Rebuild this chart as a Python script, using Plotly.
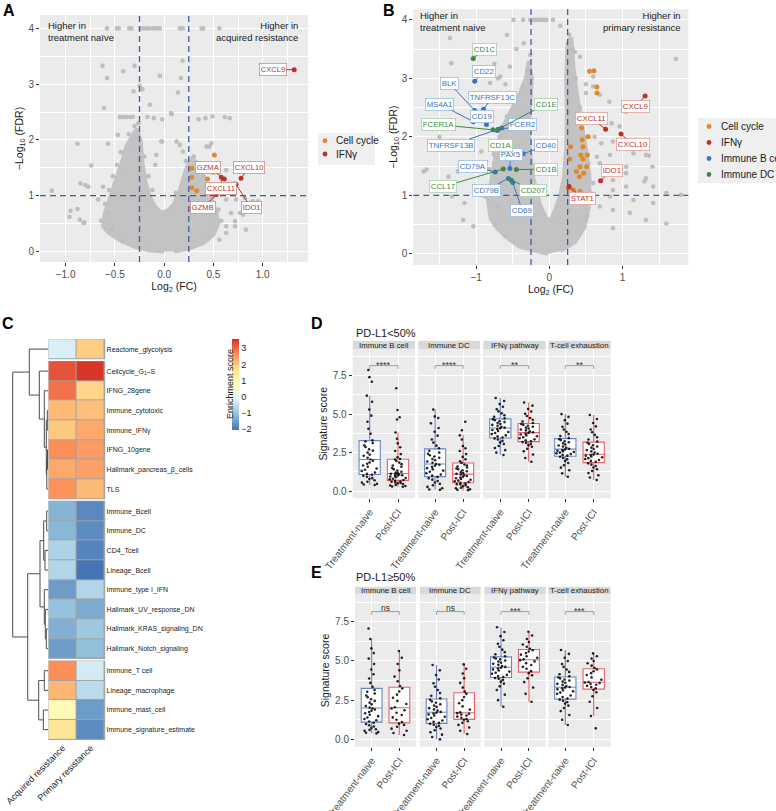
import plotly.graph_objects as go

W, H = 776, 811
FONT = "Liberation Sans, Arial, Helvetica, sans-serif"

# ======================= DATA =======================
fc_threshold = 0.25
fdr_threshold = 1.0

# ---- Panel A: treatment naive vs acquired resistance ----
a_gray_x = [-0.58, -0.48, -0.46, -0.355, -0.33, -0.24, -0.21, -0.18, -0.145, -0.105, -0.078, -0.044, 0.16, 0.19, 0.38, 0.395, 0.56,
            -0.625, -0.58, -0.415, -0.30, -0.25, -0.22, 0.186, 0.17, -0.044, 0.14, -0.31, -0.61, -0.145, 0.078,
            -0.45, -0.42, -0.385, -0.345, -0.32, -0.17, -0.105, -0.02, 0.35, 0.42, 0.49, 0.615, 0.665,
            -0.02, 0.16, -0.88, -0.57, -0.74, -0.80, -0.77, -1.14, -0.95, -0.96, -0.88, -0.855, -0.81,
            0.46, 0.70, 0.73, 0.77, 0.83, 0.72, 0.63, 0.82, 0.90, 0.94, 0.63,
            -0.85, -0.62, -0.67, -0.82, -0.47, -0.09, -0.08, -0.03, 0.125, 0.19, 0.07, 0.43, 0.48, 0.63, 0.72, 0.87, 0.95, 0.68, 0.80, 0.72, 0.63, 0.56, -0.58, -0.53, -0.42,
            -0.52, -0.48, -0.44, -0.36, -0.30, -0.26, 0.30, 0.36, 0.40, 0.45, 0.50, 0.55, 0.58, -0.64, -0.60, -0.56, 0.22, 0.12, -0.12, -0.16, -0.20]
a_gray_y = [4, 4, 4, 4, 4, 4, 4, 4, 4, 4, 4, 4, 4, 4, 4, 4, 4,
            3.33, 3.11, 3.23, 3.33, 2.97, 2.91, 3.42, 3.11, 3.15, 2.85, 2.87, 2.57, 2.63, 2.46,
            2.41, 2.41, 2.41, 2.41, 2.41, 2.41, 2.39, 2.37, 2.37, 2.39, 2.42, 2.41, 2.39,
            1.97, 1.91, 1.93, 1.93, 1.54, 1.19, 1.16, 1.09, 0.73, 0.62, 0.76, 0.57, 0.52,
            1.88, 1.22, 0.93, 0.69, 0.39, 0.54, 0.93, 0.96, 0.90, 0.84, 0.45,
            1.22, 1.16, 0.93, 0.51, 2.09, 1.55, 1.73, 1.97, 1.97, 1.79, 2.48, 1.88, 1.94, 1.46, 1.22, 0.87, 0.90, 0.69, 0.66, 0.45, 0.33, 0.21, 0.69, 0.39, 0.18,
            1.35, 1.55, 1.78, 2.10, 2.25, 2.30, 1.70, 1.52, 1.35, 1.15, 0.98, 0.75, 0.55, 0.55, 0.85, 1.10, 1.62, 1.05, 1.10, 1.35, 1.70]
# outline of the dense cloud of non-significant genes
a_cloud_x = [0.0, -0.15, -0.3, -0.45, -0.56, -0.62, -0.6, -0.55, -0.5, -0.45, -0.42, -0.38, -0.33, -0.28, -0.24, -0.22, -0.19, -0.15, -0.1,
             -0.05, 0.0, 0.05, 0.1, 0.16, 0.2, 0.24, 0.28, 0.33, 0.37, 0.42, 0.48, 0.53, 0.55, 0.5, 0.4, 0.25, 0.1]
a_cloud_y = [0.0, 0.02, 0.08, 0.2, 0.33, 0.45, 0.7, 0.95, 1.25, 1.45, 1.65, 1.9, 2.05, 2.2, 2.0, 1.6, 1.25, 1.0, 0.82,
             0.72, 0.7, 0.75, 0.85, 1.1, 1.35, 1.55, 1.65, 1.6, 1.4, 1.2, 0.95, 0.7, 0.5, 0.3, 0.15, 0.05, 0.0]
a_cellcycle_x = [0.51, 0.28, 0.50, 0.28, 0.44, 0.28, 0.33, 0.45]
a_cellcycle_y = [1.73, 1.49, 1.42, 1.33, 1.30, 1.14, 1.09, 1.10]
a_ifng_genes = ["CXCL9", "GZMA", "CXCL10", "CXCL11", "IDO1", "GZMB"]
a_ifng_x = [1.32, 0.61, 0.78, 0.58, 0.73, 0.53]
a_ifng_y = [3.26, 1.30, 1.31, 1.33, 1.20, 1.02]

# ---- Panel B: treatment naive vs primary resistance ----
b_gray_x = [-0.49, -0.36, -0.26, -0.22, -0.19, -0.16, -0.13, -0.10, -0.07, -0.04, 0.05,
            -1.36, -1.34, -0.58, 1.73, -0.54, -1.72, -1.5, -1.38, -1.33, -1.16, 1.28, 1.36, 1.15, 1.05, 1.30, 1.42, 0.87, 1.42, 0.83, 1.15,
            0.65, 0.83, 0.96, 0.71, 0.42, 0.6, -0.75, -0.6, -0.45, -0.35, 0.15, 0.35, 0.5, -1.0, -1.1, -0.95, -0.7,
            -1.68, -1.52, -1.25, -0.93, -0.88, -0.72, -1.18, -1.04, 0.87, 1.05, 1.32, 1.41, 0.82, 1.05, 0.69, 0.6, 0.87, 1.32, 1.6, 1.8,
            0.85, 1.05, 0.82, 0.69, 0.6, 0.5, 0.87, 0.62, 0.28, 0.69, 0.5, 1.1, 1.32, 1.6, 0.87,
            -0.86, -0.82, -0.76, -0.68, -0.58, -0.46, -0.36, -0.30, -0.26, 0.27, 0.32, 0.36, 0.42, 0.48, 0.53, 0.56, 0.52, -0.75, -0.60, -0.81, -0.67, -0.49]
b_gray_y = [4, 4, 4, 4, 4, 4, 4, 4, 4, 4, 4,
            3.69, 3.26, 3.74, 3.33, 3.2, 1.41, 2.0, 1.32, 0.98, 0.87, 1.89, 1.68, 1.72, 1.49, 1.24, 1.15, 1.26, 0.87, 0.98, 0.92,
            1.66, 1.69, 2.18, 1.89, 3.37, 3.03, 3.25, 2.9, 3.5, 3.6, 3.9, 3.45, 2.9, 1.55, 1.9, 2.6, 3.0,
            1.44, 1.09, 1.41, 1.75, 0.98, 0.81, 0.58, 0.47, 0.75, 1.15, 1.69, 1.49, 1.44, 1.38, 1.55, 1.21, 1.09, 1.29, 1.04, 1.01,
            2.23, 2.43, 2.6, 2.72, 2.86, 2.75, 1.92, 2.0, 0.75, 0.81, 0.58, 0.7, 0.58, 0.52, 0.44,
            1.10, 1.45, 1.70, 2.00, 2.35, 2.62, 2.85, 3.15, 3.40, 3.75, 3.50, 3.00, 2.50, 2.00, 1.55, 1.05, 0.65, 0.50, 0.30, 2.92, 3.03, 2.75]
b_cloud_x = [-0.02, -0.2, -0.4, -0.55, -0.7, -0.8, -0.84, -0.78, -0.72, -0.63, -0.5, -0.4, -0.32, -0.28, -0.24, -0.26, -0.28, -0.27, -0.22, -0.13,
             -0.04, 0.02, 0.08, 0.15, 0.2, 0.23, 0.24, 0.23, 0.25, 0.3, 0.33, 0.38, 0.45, 0.5, 0.55, 0.54, 0.48, 0.35, 0.15]
b_cloud_y = [0.0, 0.05, 0.12, 0.25, 0.42, 0.6, 0.92, 1.35, 1.8, 2.18, 2.52, 2.75, 3.0, 3.3, 3.0, 2.6, 2.2, 1.8, 1.3, 0.85,
             0.6, 0.58, 0.75, 1.0, 1.3, 1.8, 2.4, 3.0, 3.6, 3.7, 3.2, 2.7, 2.2, 1.8, 1.3, 0.8, 0.45, 0.2, 0.05]
b_cellcycle_x = [0.55, 0.61, 0.65, 0.65, 0.44, 0.53, 0.45, 0.29, 0.46, 0.43, 0.52, 0.46, 0.28, 0.42, 0.51, 0.37, 0.47, 0.41, 0.26, 0.33, 0.42]
b_cellcycle_y = [3.12, 3.13, 2.85, 2.75, 2.15, 2.0, 1.95, 1.83, 1.83, 1.69, 1.69, 1.62, 1.62, 1.49, 1.49, 1.41, 1.38, 1.32, 1.12, 1.09, 1.07]
b_ifng_genes = ["CXCL9", "CXCL11", "CXCL10", "IDO1", "STAT1"]
b_ifng_x = [1.31, 0.77, 0.98, 0.70, 0.27]
b_ifng_y = [2.70, 2.13, 2.05, 1.25, 1.15]
b_bcell_genes = ["CD22", "BLK", "TNFRSF13C", "MS4A1", "CD19", "TNFRSF13B", "FCER2", "CD40", "PAX5", "CD79A", "CD79B", "CD69"]
b_bcell_x = [-1.02, -1.02, -0.90, -1.04, -0.86, -0.65, -0.71, -0.36, -0.54, -0.74, -0.56, -0.50]
b_bcell_y = [2.95, 2.45, 2.47, 2.26, 2.21, 2.15, 2.11, 1.71, 1.46, 1.40, 1.29, 1.22]
b_dc_genes = ["CD1C", "CD1E", "FCER1A", "CD1A", "CD1B", "CCL17", "CD207"]
b_dc_x = [-1.04, -0.70, -0.77, -0.62, -0.45, -0.63, -0.52]
b_dc_y = [3.34, 2.13, 2.12, 1.80, 1.44, 1.45, 1.26]

a_xticks = [-1.0, -0.5, 0.0, 0.5, 1.0]
a_xticktext = ["−1.0", "−0.5", "0.0", "0.5", "1.0"]
b_xticks = [-1, 0, 1]
b_xticktext = ["−1", "0", "1"]
volcano_yticks = [0, 1, 2, 3, 4]

# ---- Panel C: enrichment heatmap ----
c_signatures = ["Reactome_glycolysis", "Cellcycle_G<sub>1</sub>–S", "IFNG_28gene", "Immune_cytotoxic", "Immune_IFNγ",
                "IFNG_10gene", "Hallmark_pancreas_β_cells", "TLS", "Immune_Bcell", "Immune_DC", "CD4_Tcell",
                "Lineage_Bcell", "Immune_type I_IFN", "Hallmark_UV_response_DN", "Hallmark_KRAS_signaling_DN",
                "Hallmark_Notch_signaling", "Immune_T cell", "Lineage_macrophage", "Immune_mast_cell",
                "Immune_signature_estimate"]
c_columns = ["Acquired resistance", "Primary resistance"]
c_acquired = [-0.3, 3.2, 2.9, 2.1, 1.95, 2.6, 2.3, 2.55, -1.3, -1.25, -0.8, -0.75, -1.6, -1.1, -1.35, -1.6, 2.6, 2.15, 0.9, 1.5]
c_primary = [1.9, 3.5, 1.8, 2.05, 2.3, 2.45, 2.4, 2.1, -1.85, -1.8, -1.9, -2.1, -0.75, -1.4, -1.0, -1.15, -0.35, -0.65, -1.6, -1.8]
c_cluster_sizes = [1, 7, 8, 4]
# hierarchical merges (node a, node b, height); leaves 0-19, new nodes numbered from 20
c_merges = [(3, 4, 1.0), (5, 6, 0.8), (21, 7, 1.5), (20, 22, 2.0), (2, 23, 4.0), (1, 24, 9.0), (0, 25, 19.0),
            (8, 9, 1.6), (10, 11, 3.3), (27, 28, 4.6), (14, 15, 2.0), (13, 30, 3.0), (12, 31, 4.0), (29, 32, 8.3),
            (16, 17, 4.0), (18, 19, 5.0), (34, 35, 9.6), (33, 36, 20.6), (26, 37, 35.6)]
c_colorbar_ticks = [-2, -1, 0, 1, 2, 3]

# ---- Panels D / E: signature scores ----
box_facets = ["Immune B cell", "Immune DC", "IFNγ pathway", "T-cell exhaustion"]
box_groups = ["Treatment-naive", "Post-ICI"]
box_yticks = [0, 2.5, 5, 7.5]
box_yticktext = ["0.0", "2.5", "5.0", "7.5"]

d_bcell_naive = [0.39, 0.43, 0.47, 0.55, 0.61, 0.7, 0.78, 0.84, 0.93, 0.99, 1.06, 1.12, 1.2, 1.31, 1.38, 1.47, 1.58, 1.66, 1.77, 1.86, 1.97,
                 2.05, 2.16, 2.29, 2.37, 2.5, 2.63, 2.71, 2.86, 2.97, 3.12, 3.22, 3.3, 3.72, 4.05, 4.5, 4.9, 5.3, 5.8, 6.2, 7.1, 7.4, 7.87]
d_bcell_post = [0.28, 0.3, 0.33, 0.36, 0.4, 0.46, 0.5, 0.52, 0.57, 0.6, 0.62, 0.67, 0.72, 0.76, 0.8, 0.85, 0.9, 0.94, 0.99, 1.0, 1.03, 1.08,
                1.1, 1.12, 1.16, 1.2, 1.25, 1.33, 1.41, 1.5, 1.58, 1.66, 1.75, 1.85, 1.95, 2.05, 2.08, 2.2, 2.4, 2.6, 2.85, 3.1, 3.4, 3.8,
                4.65, 4.8, 5.27, 6.68]
d_dc_naive = [0.08, 0.1, 0.18, 0.27, 0.38, 0.47, 0.56, 0.65, 0.74, 0.83, 0.92, 1.0, 1.08, 1.16, 1.25, 1.33, 1.41, 1.49, 1.57, 1.64, 1.71,
              1.76, 1.84, 1.92, 2.0, 2.08, 2.16, 2.25, 2.33, 2.42, 2.5, 2.62, 2.78, 2.95, 3.15, 3.35, 3.6, 3.85, 4.1, 4.4, 4.75, 4.85, 5.3]
d_dc_post = [0.06, 0.08, 0.12, 0.18, 0.22, 0.25, 0.31, 0.37, 0.43, 0.45, 0.49, 0.54, 0.59, 0.63, 0.68, 0.73, 0.78, 0.83, 0.88, 0.93, 0.98,
             1.03, 1.08, 1.12, 1.17, 1.23, 1.29, 1.35, 1.41, 1.47, 1.53, 1.59, 1.66, 1.72, 1.82, 1.94, 2.07, 2.22, 2.4, 2.6, 2.78, 2.93,
             3.35, 3.62, 3.95, 4.5]
d_ifng_naive = [2.34, 2.5, 2.66, 2.8, 2.93, 3.05, 3.16, 3.26, 3.35, 3.42, 3.48, 3.55, 3.62, 3.7, 3.77, 3.84, 3.91, 3.97, 4.03, 4.08,
                4.12, 4.18, 4.24, 4.3, 4.36, 4.42, 4.48, 4.54, 4.6, 4.66, 4.72, 4.82, 4.93, 5.05, 5.18, 5.32, 5.48, 5.65, 5.85, 6.05]
d_ifng_post = [1.9, 2.15, 2.38, 2.58, 2.75, 2.88, 2.98, 3.06, 3.13, 3.18, 3.24, 3.3, 3.36, 3.43, 3.5, 3.56, 3.62, 3.67, 3.72, 3.77,
               3.82, 3.88, 3.94, 4.0, 4.06, 4.12, 4.18, 4.24, 4.3, 4.35, 4.42, 4.52, 4.63, 4.75, 4.88, 5.02, 5.17, 5.33, 5.55, 5.75]
d_tex_naive = [0.93, 1.15, 1.35, 1.52, 1.68, 1.82, 1.95, 2.06, 2.15, 2.23, 2.3, 2.35, 2.4, 2.45, 2.5, 2.54, 2.58, 2.62, 2.66, 2.7,
               2.75, 2.82, 2.89, 2.96, 3.03, 3.1, 3.17, 3.24, 3.31, 3.37, 3.45, 3.57, 3.7, 3.85, 4.0, 4.18, 4.38, 4.6, 4.82, 5.0]
d_tex_post = [0.72, 0.88, 1.03, 1.17, 1.3, 1.42, 1.53, 1.63, 1.72, 1.8, 1.9, 1.96, 2.02, 2.08, 2.14, 2.2, 2.25, 2.3, 2.34, 2.37,
              2.42, 2.5, 2.58, 2.66, 2.74, 2.82, 2.9, 2.98, 3.06, 3.14, 3.22, 3.35, 3.5, 3.65, 3.82, 4.0, 4.2, 4.42, 4.68, 4.94]

e_bcell_naive = [0.38, 0.42, 0.46, 0.55, 0.6, 0.64, 0.73, 0.82, 0.9, 0.98, 1.06, 1.14, 1.22, 1.3, 1.39, 1.48, 1.57, 1.66, 1.74, 1.82, 1.9, 1.97,
                 2.02, 2.12, 2.23, 2.34, 2.45, 2.56, 2.68, 2.8, 2.92, 3.03, 3.15, 3.35, 3.6, 3.88, 4.15, 4.45, 4.8, 5.15, 5.5, 5.8, 6.4, 7.07]
e_bcell_post = [0.28, 0.4, 0.55, 0.68, 0.8, 0.92, 1.0, 1.1, 1.25, 1.4, 1.55, 1.7, 1.85, 1.97,
                2.05, 2.25, 2.45, 2.65, 2.85, 3.05, 3.24, 3.4, 3.7, 4.0, 4.4, 4.8, 5.2, 5.63]
e_dc_naive = [0.0, 0.15, 0.3, 0.45, 0.58, 0.69, 0.78, 0.86, 0.93, 0.99, 1.05, 1.12, 1.2, 1.28, 1.36, 1.44, 1.52, 1.59, 1.65, 1.7,
              1.75, 1.83, 1.91, 1.99, 2.07, 2.15, 2.24, 2.33, 2.42, 2.52, 2.62, 2.78, 2.95, 3.15, 3.35, 3.58, 3.82, 4.1, 4.4, 4.74]
e_dc_post = [0.34, 0.55, 0.75, 0.92, 1.05, 1.15, 1.25, 1.3, 1.38, 1.45, 1.52, 1.58, 1.63, 1.67,
             1.72, 1.9, 2.1, 2.3, 2.5, 2.7, 2.9, 3.05, 3.3, 3.6, 3.9, 4.2, 4.5, 4.78]
e_ifng_naive = [2.08, 2.5, 2.85, 3.15, 3.38, 3.55, 3.68, 3.78, 3.86, 3.91, 3.97, 4.04, 4.11, 4.18, 4.25, 4.32, 4.39, 4.46, 4.52, 4.57,
                4.62, 4.68, 4.75, 4.82, 4.89, 4.96, 5.03, 5.1, 5.16, 5.22, 5.3, 5.42, 5.56, 5.72, 5.9, 6.1, 6.32, 6.58, 6.85, 7.15]
e_ifng_post = [2.4, 2.9, 3.3, 3.65, 3.9, 4.08, 4.22, 4.35, 4.5, 4.62, 4.74, 4.86, 4.97, 5.05,
               5.1, 5.2, 5.3, 5.4, 5.5, 5.6, 5.68, 5.78, 5.9, 6.05, 6.2, 6.4, 6.62, 6.86]
e_tex_naive = [0.91, 1.25, 1.55, 1.8, 2.0, 2.15, 2.28, 2.38, 2.46, 2.53, 2.6, 2.7, 2.8, 2.9, 2.98, 3.06, 3.13, 3.2, 3.26, 3.3,
               3.34, 3.4, 3.47, 3.54, 3.61, 3.68, 3.75, 3.82, 3.88, 3.94, 4.02, 4.15, 4.3, 4.45, 4.62, 4.8, 5.0, 5.2, 5.45, 5.7]
e_tex_post = [0.7, 1.49, 2.0, 2.4, 2.75, 3.0, 3.15, 3.25, 3.33, 3.41, 3.48, 3.54, 3.59, 3.62,
              3.66, 3.8, 3.95, 4.1, 4.22, 4.34, 4.45, 4.55, 4.7, 4.85, 5.0, 5.15, 5.3, 5.48]

d_signif = ["****", "****", "**", "**"]
e_signif = ["ns", "ns", "***", "***"]
signif_level = 8.15

# ======================= STYLE / HELPERS =======================
GRAY = "#BEBEBE"
CLOUD = "#C3C3C3"
ORANGE = "#E0892B"
RED = "#B8342B"
BLUE = "#3A74C2"
GREEN = "#3C8A3F"
BOXBLUE = "#6A86C6"
BOXRED = "#E8626A"
PANEL = "#EBEBEB"
DASH = "#4257A8"


def dom_x(a, b):
    return [a / W, b / W]


def dom_y(top, bottom):
    return [1 - bottom / H, 1 - top / H]


def fx(p):
    return p / W


def fy(p):
    return 1 - p / H


fig = go.Figure()
shapes, annos = [], []

# ======================= PANELS A & B =======================
def volcano(xa, ya, cloud_x, cloud_y, gx, gy):
    fig.add_trace(go.Scatter(x=cloud_x, y=cloud_y, xaxis=xa, yaxis=ya, mode="lines", fill="toself",
                             fillcolor=CLOUD, line=dict(color=CLOUD, width=4), hoverinfo="skip", showlegend=False))
    fig.add_trace(go.Scatter(x=gx, y=gy, xaxis=xa, yaxis=ya, mode="markers",
                             marker=dict(color=GRAY, size=4.6), hoverinfo="skip", showlegend=False))


volcano("x", "y", a_cloud_x, a_cloud_y, a_gray_x, a_gray_y)
volcano("x2", "y2", b_cloud_x, b_cloud_y, b_gray_x, b_gray_y)

for xa, ya, sx, sy, col, nm in [("x", "y", a_cellcycle_x, a_cellcycle_y, ORANGE, "Cell cycle"),
                                ("x", "y", a_ifng_x, a_ifng_y, RED, "IFNγ"),
                                ("x2", "y2", b_cellcycle_x, b_cellcycle_y, ORANGE, "Cell cycle"),
                                ("x2", "y2", b_ifng_x, b_ifng_y, RED, "IFNγ"),
                                ("x2", "y2", b_bcell_x, b_bcell_y, BLUE, "Immune B cell"),
                                ("x2", "y2", b_dc_x, b_dc_y, GREEN, "Immune DC")]:
    fig.add_trace(go.Scatter(x=sx, y=sy, xaxis=xa, yaxis=ya, mode="markers", name=nm,
                             marker=dict(color=col, size=5), showlegend=False))

# threshold dashed lines
for xr, yr in (("x", "y"), ("x2", "y2")):
    for v in (-fc_threshold, fc_threshold):
        shapes.append(dict(type="line", xref=xr, yref=yr + " domain", x0=v, x1=v, y0=0, y1=1,
                           line=dict(color=DASH, width=1.3, dash="6px,4px"), layer="above"))
    shapes.append(dict(type="line", xref=xr + " domain", yref=yr, x0=0, x1=1, y0=fdr_threshold, y1=fdr_threshold,
                       line=dict(color=DASH, width=1.3, dash="6px,4px"), layer="above"))

# gene labels (label positions = layout)
a_label_pos = {"CXCL9": (1.10, 3.26), "GZMA": (0.45, 1.51), "CXCL10": (0.86, 1.51),
               "CXCL11": (0.58, 1.135), "GZMB": (0.395, 0.78), "IDO1": (0.885, 0.78)}
b_label_pos = {"CXCL9": (1.18, 2.52), "CXCL11": (0.57, 2.32), "CXCL10": (1.14, 1.87), "IDO1": (0.85, 1.42),
               "STAT1": (0.46, 0.95), "CD22": (-0.90, 3.12), "BLK": (-1.37, 2.92), "TNFRSF13C": (-0.78, 2.68),
               "MS4A1": (-1.50, 2.56), "CD19": (-0.92, 2.34), "TNFRSF13B": (-1.34, 1.86), "FCER2": (-0.37, 2.21),
               "CD40": (-0.04, 1.85), "PAX5": (-0.53, 1.69), "CD79A": (-1.05, 1.50), "CD79B": (-0.86, 1.09),
               "CD69": (-0.37, 0.74), "CD1C": (-0.88, 3.50), "CD1E": (-0.05, 2.56), "FCER1A": (-1.52, 2.21),
               "CD1A": (-0.67, 1.85), "CD1B": (-0.05, 1.45), "CCL17": (-1.45, 1.15), "CD207": (-0.22, 1.09)}


def add_labels(genes, xs, ys, pos, xr, yr, tcol, bcol, size):
    for g, x, y in zip(genes, xs, ys):
        lx, ly = pos[g]
        annos.append(dict(xref=xr, yref=yr, x=x, y=y, axref=xr, ayref=yr, ax=lx, ay=ly, text=g,
                          showarrow=True, arrowhead=0, arrowwidth=1, arrowcolor=tcol, standoff=0,
                          font=dict(size=size, color=tcol, family=FONT), bgcolor="white",
                          bordercolor=bcol, borderwidth=0.8, borderpad=1))


add_labels(a_ifng_genes, a_ifng_x, a_ifng_y, a_label_pos, "x", "y", RED, "#D98A84", 7.6)
add_labels(b_ifng_genes, b_ifng_x, b_ifng_y, b_label_pos, "x2", "y2", RED, "#E2A09A", 7.8)
add_labels(b_bcell_genes, b_bcell_x, b_bcell_y, b_label_pos, "x2", "y2", BLUE, "#9DBBE3", 7.8)
add_labels(b_dc_genes, b_dc_x, b_dc_y, b_label_pos, "x2", "y2", GREEN, "#A7CFA5", 7.8)

# corner texts
for x, y, xan, txt in [(46, 18, "left", "Higher in<br>treatment naïve"),
                       (299.5, 18, "right", "Higher in<br>acquired resistance"),
                       (417.5, 8, "left", "Higher in<br>treatment naive"),
                       (683, 8, "right", "Higher in<br>primary resistance")]:
    annos.append(dict(xref="paper", yref="paper", x=fx(x), y=fy(y), xanchor=xan, yanchor="top", align=xan,
                      text=txt, showarrow=False, font=dict(size=9.5, color="#1A1A1A", family=FONT)))

# manual legends
def legend_box(x0, y0, x1, y1, items, mx, tx, rows):
    shapes.append(dict(type="rect", xref="paper", yref="paper", x0=fx(x0), x1=fx(x1), y0=fy(y1), y1=fy(y0),
                       fillcolor="#EFEFEF", line=dict(width=0), layer="below"))
    for (name, col), ry in zip(items, rows):
        shapes.append(dict(type="circle", xref="paper", yref="paper", xsizemode="pixel", ysizemode="pixel",
                           xanchor=fx(mx), yanchor=fy(ry), x0=-2.4, x1=2.4, y0=-2.4, y1=2.4,
                           fillcolor=col, line=dict(width=0)))
        annos.append(dict(xref="paper", yref="paper", x=fx(tx), y=fy(ry), xanchor="left", yanchor="middle",
                          text=name, showarrow=False, font=dict(size=10, color="#1A1A1A", family=FONT)))


legend_box(318, 133, 375, 165, [("Cell cycle", ORANGE), ("IFNγ", RED)], 325, 334, [140.7, 154])
legend_box(698, 118, 776, 183, [("Cell cycle", ORANGE), ("IFNγ", RED), ("Immune B cell", BLUE), ("Immune DC", GREEN)],
           709, 719, [126.5, 142.5, 158.5, 174.5])

# ======================= PANEL C =======================
GAP = 0.12
row_pos = []
idx = 0
starts = []
for k, size in enumerate(c_cluster_sizes):
    starts.append(idx)
    for j in range(size):
        row_pos.append(idx + k * GAP)
        idx += 1

for k, size in enumerate(c_cluster_sizes):
    rows = list(range(starts[k], starts[k] + size))
    fig.add_trace(go.Heatmap(z=[[c_acquired[i], c_primary[i]] for i in rows], x=[0, 1],
                             y=[row_pos[i] for i in rows], coloraxis="coloraxis", xgap=1, ygap=1,
                             xaxis="x3", yaxis="y3", hoverinfo="skip"))
    shapes.append(dict(type="rect", xref="x3", yref="y3", x0=-0.52, x1=1.52,
                       y0=row_pos[rows[0]] - 0.52, y1=row_pos[rows[-1]] + 0.52,
                       fillcolor="#A3A3A3", line=dict(width=0), layer="below"))

# dendrogram from merges
node_pos = {i: row_pos[i] for i in range(len(c_signatures))}
node_h = {i: 0.0 for i in range(len(c_signatures))}
dx, dy = [], []
nid = len(c_signatures)
for a, b, h in c_merges:
    dx += [node_h[a], h, h, node_h[b], None]
    dy += [node_pos[a], node_pos[a], node_pos[b], node_pos[b], None]
    node_pos[nid] = (node_pos[a] + node_pos[b]) / 2
    node_h[nid] = h
    nid += 1
fig.add_trace(go.Scatter(x=dx, y=dy, xaxis="x4", yaxis="y3", mode="lines",
                         line=dict(color="#4D4D4D", width=1), hoverinfo="skip", showlegend=False))

annos.append(dict(xref="paper", yref="paper", x=fx(223), y=fy(384), text="Enrichment score", textangle=-90,
                  showarrow=False, font=dict(size=9, color="#1A1A1A", family=FONT)))

# ======================= PANELS D & E =======================
d_sets = [(d_bcell_naive, d_bcell_post), (d_dc_naive, d_dc_post), (d_ifng_naive, d_ifng_post), (d_tex_naive, d_tex_post)]
e_sets = [(e_bcell_naive, e_bcell_post), (e_dc_naive, e_dc_post), (e_ifng_naive, e_ifng_post), (e_tex_naive, e_tex_post)]
d_xdom = [(352.7, 415), (418.3, 480), (483.3, 545.7), (548.3, 610.7)]
e_xdom = [(355, 416), (420, 480.7), (484.3, 545.7), (548.3, 610.7)]

layout_axes = {}

tickfont = dict(size=10, color="#4D4D4D", family=FONT)
base_ax = dict(showgrid=True, gridcolor="white", gridwidth=1.1, zeroline=False, showline=False,
               ticks="outside", ticklen=3, tickwidth=0.7, tickcolor="#333333", tickfont=tickfont, automargin=False)


def box_row(sets, signif, xdoms, first_ax, yname, ydom, yrange, strip, title_y, title_txt):
    for i, ((naive, post), (x0, x1)) in enumerate(zip(sets, xdoms)):
        n = first_ax + i
        xname = "x%d" % n
        layout_axes["xaxis%d" % n] = dict(base_ax, domain=dom_x(x0, x1), anchor=yname, type="category",
                                           categoryorder="array", categoryarray=box_groups, range=[-0.6, 1.6],
                                           tickangle=-53)
        for vals, g, col in ((naive, box_groups[0], BOXBLUE), (post, box_groups[1], BOXRED)):
            fig.add_trace(go.Box(x=[g] * len(vals), y=vals, xaxis=xname, yaxis=yname, boxpoints="all",
                                 jitter=0.9, pointpos=0, width=0.75, fillcolor="white", whiskerwidth=0,
                                 line=dict(color=col, width=1.1),
                                 marker=dict(color="black", size=2.6, opacity=0.85),
                                 hoverinfo="skip", showlegend=False))
        fig.add_trace(go.Scatter(x=[box_groups[0], box_groups[0], box_groups[1], box_groups[1]],
                                 y=[signif_level - 0.22, signif_level, signif_level, signif_level - 0.22],
                                 xaxis=xname, yaxis=yname, mode="lines", line=dict(color="#8C8C8C", width=0.8),
                                 hoverinfo="skip", showlegend=False))
        is_star = signif[i].startswith("*")
        annos.append(dict(xref=xname, yref=yname, x=0.5, y=signif_level + (0.05 if is_star else 0.2),
                          yanchor="middle", text=signif[i], showarrow=False,
                          font=dict(size=9 if is_star else 8.5, color="#333333", family=FONT)))
        shapes.append(dict(type="rect", xref=xname + " domain", yref=yname + " domain", x0=0, x1=1, y0=0, y1=1,
                           fillcolor=PANEL, line=dict(width=0), layer="below"))
        shapes.append(dict(type="rect", xref=xname + " domain", yref="paper", x0=0, x1=1,
                           y0=fy(strip[1]), y1=fy(strip[0]), fillcolor="#D9D9D9", line=dict(width=0)))
        annos.append(dict(xref=xname + " domain", yref="paper", x=0.5, y=fy((strip[0] + strip[1]) / 2),
                          text=box_facets[i], showarrow=False, yanchor="middle",
                          font=dict(size=7.8, color="#1A1A1A", family=FONT)))
    layout_axes["yaxis" + yname[1:]] = dict(base_ax, domain=ydom, anchor="x%d" % first_ax, range=yrange,
                                            tickmode="array", tickvals=box_yticks, ticktext=box_yticktext,
                                            minor=dict(tickmode="array", tickvals=[1.25, 3.75, 6.25, 8.75],
                                                       showgrid=True, gridcolor="white", gridwidth=0.5, ticks=""),
                                            title=dict(text="Signature score", standoff=3,
                                                       font=dict(size=10.5, color="#1A1A1A", family=FONT)))
    annos.append(dict(xref="paper", yref="paper", x=fx(354), y=fy(title_y), xanchor="left", yanchor="middle",
                      text=title_txt, showarrow=False, font=dict(size=11, color="#1A1A1A", family=FONT)))


box_row(d_sets, d_signif, d_xdom, 5, "y5", dom_y(349.3, 498.3), [-0.47, 9.21], (340.7, 349.3), 333, "PD-L1&lt;50%")
box_row(e_sets, e_signif, e_xdom, 9, "y6", dom_y(594.3, 746.7), [-0.47, 9.25], (586.7, 594.3), 577, "PD-L1≥50%")

# panel backgrounds A, B
for xr, yr in (("x", "y"), ("x2", "y2")):
    shapes.append(dict(type="rect", xref=xr + " domain", yref=yr + " domain", x0=0, x1=1, y0=0, y1=1,
                       fillcolor=PANEL, line=dict(width=0), layer="below"))

# panel letters
for x, y, t in [(1, 0, "A"), (381, 0, "B"), (0, 313, "C"), (309, 313, "D"), (309, 562, "E")]:
    annos.append(dict(xref="paper", yref="paper", x=fx(x), y=fy(y), xanchor="left", yanchor="top", text="<b>%s</b>" % t,
                      showarrow=False, font=dict(size=16, color="black", family=FONT)))

axis_title_font = dict(size=10.5, color="#1A1A1A", family=FONT)
layout_axes["xaxis"] = dict(base_ax, domain=dom_x(40, 308), anchor="y", range=[-1.26, 1.46], tickmode="array",
                            tickvals=a_xticks, ticktext=a_xticktext,
                            minor=dict(tickmode="array", tickvals=[-1.25, -0.75, -0.25, 0.25, 0.75, 1.25],
                                       showgrid=True, gridcolor="white", gridwidth=0.5, ticks=""),
                            title=dict(text="Log<sub>2</sub> (FC)", standoff=2, font=axis_title_font))
layout_axes["yaxis"] = dict(base_ax, domain=dom_y(15, 262), anchor="x", range=[-0.19, 4.24], tickmode="array",
                            tickvals=volcano_yticks, ticktext=[str(v) for v in volcano_yticks],
                            minor=dict(tickmode="array", tickvals=[0.5, 1.5, 2.5, 3.5],
                                       showgrid=True, gridcolor="white", gridwidth=0.5, ticks=""),
                            title=dict(text="−Log<sub>10</sub> (FDR)", standoff=2, font=axis_title_font))
layout_axes["xaxis2"] = dict(base_ax, domain=dom_x(413.3, 688.3), anchor="y2", range=[-1.86, 1.9], tickmode="array",
                             tickvals=b_xticks, ticktext=b_xticktext,
                             minor=dict(tickmode="array", tickvals=[-1.5, -0.5, 0.5, 1.5],
                                        showgrid=True, gridcolor="white", gridwidth=0.5, ticks=""),
                             title=dict(text="Log<sub>2</sub> (FC)", standoff=2, font=axis_title_font))
layout_axes["yaxis2"] = dict(base_ax, domain=dom_y(9.3, 265), anchor="x2", range=[-0.19, 4.18], tickmode="array",
                             tickvals=volcano_yticks, ticktext=[str(v) for v in volcano_yticks],
                             minor=dict(tickmode="array", tickvals=[0.5, 1.5, 2.5, 3.5],
                                        showgrid=True, gridcolor="white", gridwidth=0.5, ticks=""),
                             title=dict(text="−Log<sub>10</sub> (FDR)", standoff=2, font=axis_title_font))
y_top = row_pos[-1] + 0.53
layout_axes["xaxis3"] = dict(domain=dom_x(47.7, 105.6), anchor="y3", range=[-0.53, 1.53], tickmode="array",
                             tickvals=[0, 1], ticktext=c_columns, tickangle=-45, ticks="", showgrid=False,
                             zeroline=False, showline=False, automargin=False,
                             tickfont=dict(size=9, color="#1A1A1A", family=FONT))
layout_axes["yaxis3"] = dict(domain=dom_y(338.7, 740.1), anchor="x3", range=[y_top, -0.53], side="right",
                             tickmode="array", tickvals=row_pos, ticktext=c_signatures, ticks="", showgrid=False,
                             zeroline=False, showline=False, automargin=False,
                             tickfont=dict(size=7, color="#1A1A1A", family=FONT))
layout_axes["xaxis4"] = dict(domain=dom_x(0, 48.3), anchor="y3", range=[48.3, 0], visible=False)

fig.update_layout(
    width=W, height=H, template="none",
    margin=dict(l=0, r=0, t=0, b=0, autoexpand=False),
    paper_bgcolor="white", plot_bgcolor="white", showlegend=False,
    font=dict(family=FONT, color="#1A1A1A"),
    coloraxis=dict(
        colorscale=[[0, "#4575B4"], [1 / 6, "#91BFDB"], [2 / 6, "#E0F3F8"], [3 / 6, "#FFFFBF"],
                    [4 / 6, "#FEE090"], [5 / 6, "#FC8D59"], [1, "#D73027"]],
        cmin=-2.1, cmax=3.56,
        colorbar=dict(x=fx(231.5), xanchor="left", y=fy(339.3), yanchor="top", len=(430.7 - 339.3) / H,
                      lenmode="fraction", thickness=7, thicknessmode="pixels", outlinewidth=0,
                      tickmode="array", tickvals=c_colorbar_ticks,
                      ticktext=[("−%d" % -v) if v < 0 else str(v) for v in c_colorbar_ticks],
                      tickfont=dict(size=9, color="#1A1A1A", family=FONT), ticks="", xpad=0, ypad=0,
                      borderwidth=0)),
    shapes=shapes, annotations=annos,
    **layout_axes,
)

fig.write_html("out.html", config={"displayModeBar": False},
               post_script="document.body.style.margin='0px';document.body.style.overflow='hidden';")
